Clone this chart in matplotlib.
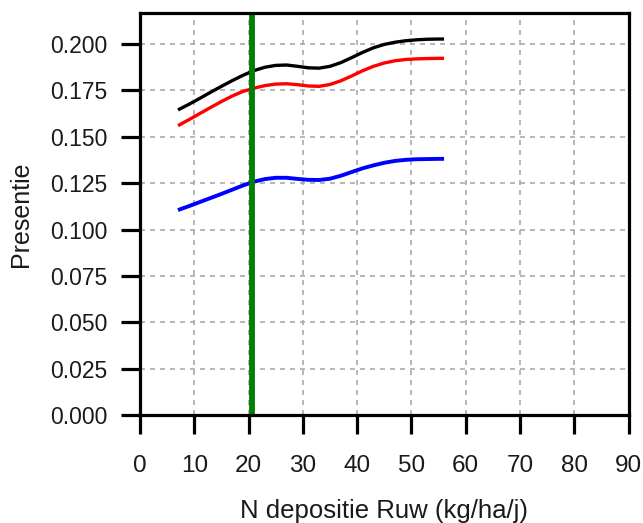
import matplotlib
matplotlib.use("Agg")
import matplotlib.pyplot as plt

plt.rcParams['font.family'] = ['Liberation Sans', 'DejaVu Sans']

# N deposition (kg/ha/j)
deposition = [7, 9, 11, 13, 15, 17, 19, 21, 23, 25, 27, 29, 31, 33, 35, 37, 39,
              41, 43, 45, 47, 49, 51, 53, 55, 56]

presence_upper = [0.1645, 0.1675, 0.1707, 0.1740, 0.1772, 0.1803, 0.1832, 0.1857,
                  0.1875, 0.1885, 0.1887, 0.1880, 0.1872, 0.1870, 0.1880, 0.1900,
                  0.1927, 0.1955, 0.1980, 0.1998, 0.2010, 0.2018, 0.2023, 0.2026,
                  0.2027, 0.2027]
presence_mid = [0.1560, 0.1592, 0.1625, 0.1658, 0.1690, 0.1720, 0.1745, 0.1762,
                0.1776, 0.1784, 0.1786, 0.1781, 0.1774, 0.1772, 0.1782, 0.1802,
                0.1828, 0.1856, 0.1880, 0.1898, 0.1910, 0.1917, 0.1920, 0.1922,
                0.1923, 0.1923]
presence_lower = [0.1105, 0.1126, 0.1148, 0.1170, 0.1192, 0.1215, 0.1238, 0.1258,
                  0.1272, 0.1279, 0.1279, 0.1273, 0.1268, 0.1267, 0.1274, 0.1290,
                  0.1310, 0.1330, 0.1346, 0.1360, 0.1370, 0.1376, 0.1379, 0.1380,
                  0.1381, 0.1381]

critical_load = 20.7

x_ticks = [0, 10, 20, 30, 40, 50, 60, 70, 80, 90]
y_ticks = [0.000, 0.025, 0.050, 0.075, 0.100, 0.125, 0.150, 0.175, 0.200]

fig = plt.figure(figsize=(6.43, 5.23), dpi=100)
ax = fig.add_axes([0.2177, 0.2065, 0.7600, 0.7692])

ax.set_xlim(0, 90)
ax.set_ylim(0, 0.2169)

ax.grid(True, color='#aaaaaa', linestyle=(0, (3, 3)), linewidth=1.2)
ax.set_axisbelow(True)

ax.plot(deposition, presence_upper, color='black', lw=2.4, solid_capstyle='butt')
ax.plot(deposition, presence_mid, color='#ff0000', lw=2.4, solid_capstyle='butt')
ax.plot(deposition, presence_lower, color='#0000ff', lw=2.8, solid_capstyle='butt')
ax.axvline(critical_load, color='#007f00', lw=4.2)

ax.set_xticks(x_ticks)
ax.set_xticklabels([str(v) for v in x_ticks])
ax.set_yticks(y_ticks)
ax.set_yticklabels([f"{v:.3f}" for v in y_ticks])

for side in ['left', 'right', 'top', 'bottom']:
    ax.spines[side].set_linewidth(2.3)
    ax.spines[side].set_color('black')

ax.tick_params(axis='both', direction='out', length=13.5, width=2.3,
               colors='black', labelcolor='#1a1a1a')
ax.tick_params(axis='x', pad=15, labelsize=17.5)
ax.tick_params(axis='y', pad=10, labelsize=16.5)

ax.set_xlabel('N depositie Ruw (kg/ha/j)', fontsize=18.5, color='#1a1a1a', labelpad=16)
ax.set_ylabel('Presentie', fontsize=18, color='#1a1a1a', labelpad=12)

fig.savefig('out.png', dpi=100)
